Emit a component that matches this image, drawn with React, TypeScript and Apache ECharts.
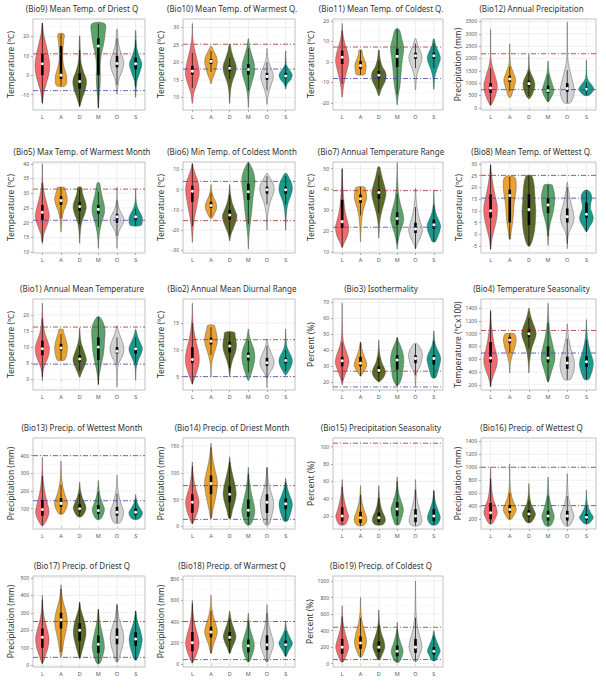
import React, { useEffect, useRef } from "react";
import * as echarts from "echarts";

const categories = ["L", "A", "D", "M", "O", "S"];
const violinColors = ["#EF6B6E", "#E9A232", "#5A6A2B", "#5AA46A", "#D2D2D2", "#199A8B"];

const panelTitles = [
  "(Bio9) Mean Temp. of Driest Q", "(Bio10) Mean Temp. of Warmest Q.", "(Bio11) Mean Temp. of Coldest Q.", "(Bio12) Annual Precipitation",
  "(Bio5) Max Temp. of Warmest Month", "(Bio6) Min Temp. of Coldest Month", "(Bio7) Annual Temperature Range", "(Bio8) Mean Temp. of Wettest Q.",
  "(Bio1) Annual Mean Temperature", "(Bio2) Annual Mean Diurnal Range", "(Bio3) Isothermality", "(Bio4) Temperature Seasonality",
  "(Bio13) Precip. of Wettest Month", "(Bio14) Precip. of Driest Month", "(Bio15) Precipitation Seasonality", "(Bio16) Precip. of Wettest Q",
  "(Bio17) Precip. of Driest Q", "(Bio18) Precip. of Warmest Q", "(Bio19) Precip. of Coldest Q",
];

const T = "Temperature (℃)";
const P = "Precipitation (mm)";
const PC = "Percent (%)";
const yNames = [T, T, T, P, T, T, T, T, T, T, PC, "Temperature (℃x100)", P, P, PC, P, P, P, PC];

const yMin = [-18, 6.4, -23.5, -90, 9.7, -31.3, 9.4, -8, -3.3, 2.5, 15.3, 118, -15, -5, 5, 50, -10, -30, -40];
const yMax = [29, 32.4, 21, 3600, 40.6, 13.7, 53.2, 30.8, 24.9, 19.5, 72, 1544, 500, 165, 110, 1450, 510, 830, 1060];

const yTicks = [
  [-10, 0, 10, 20], [10, 15, 20, 25, 30], [-20, -10, 0, 10, 20], [0, 500, 1000, 1500, 2000, 2500, 3000, 3500],
  [10, 15, 20, 25, 30, 35, 40], [-30, -20, -10, 0, 10], [10, 20, 30, 40, 50], [-5, 0, 5, 10, 15, 20, 25, 30],
  [0, 5, 10, 15, 20], [5, 10, 15], [20, 30, 40, 50, 60, 70], [200, 400, 600, 800, 1000, 1200, 1400],
  [100, 200, 300, 400], [0, 50, 100, 150], [20, 40, 60, 80, 100], [200, 400, 600, 800, 1000, 1200, 1400],
  [0, 100, 200, 300, 400, 500], [0, 200, 400, 600, 800], [0, 200, 400, 600, 800, 1000],
];

const redLine = [11, 25.2, 7.3, 2190, 31.4, -15.3, 39.4, 25.1, 16.2, 11.9, 27, 1051, 400, 76, 104, 1000, 250, 400, 440];
const blueLine = [-8, 18.1, -8.1, 735, 20.8, 4.1, 21.8, 15.4, 4.7, 5.0, 17.2, 697, 145, 13, null, 410, 45, 40, 50];

// each violin: [q1, median, q3, density profile [value, relative width]]
const bio9 = [
  [0, 5.9, 11, [[-14.5, 0.02], [-9.3, 0.15], [-4.1, 0.45], [1.1, 0.72], [6.3, 0.78], [11.5, 0.6], [16.7, 0.35], [21.9, 0.12], [26.9, 0.02]]],
  [-2, 0, 15, [[-5.5, 0.45], [-2.2, 0.62], [1.2, 0.52], [4.5, 0.3], [7.9, 0.2], [11.2, 0.18], [14.5, 0.22], [17.9, 0.3], [21.2, 0.32]]],
  [-7, -3.3, 1, [[-16.2, 0.02], [-11.6, 0.3], [-7.1, 0.62], [-2.6, 0.72], [1.9, 0.4], [6.4, 0.15], [10.9, 0.08], [15.4, 0.05], [20.3, 0.02]]],
  [0, 15, 19, [[-17, 0.02], [-11.6, 0.08], [-6.1, 0.18], [-0.7, 0.22], [4.8, 0.2], [10.2, 0.3], [15.6, 0.55], [21.1, 0.72], [26.5, 0.7]]],
  [4, 6, 10, [[-9.8, 0.02], [-5.6, 0.1], [-1.4, 0.25], [2.8, 0.6], [7, 0.72], [11.2, 0.45], [15.4, 0.2], [19.6, 0.1], [23.8, 0.02]]],
  [3, 5.9, 9, [[-11.4, 0.02], [-7.1, 0.05], [-2.8, 0.15], [1.5, 0.45], [5.9, 0.66], [10.2, 0.35], [14.5, 0.1], [18.8, 0.05], [23.1, 0.02]]],
];
const bio10 = [
  [16.5, 17.5, 19, [[8.3, 0.02], [11.15, 0.15], [14, 0.5], [16.85, 0.75], [19.7, 0.6], [22.55, 0.35], [25.4, 0.12], [28.25, 0.03], [31.1, 0.01]]],
  [19.5, 20.3, 21, [[13.9, 0.02], [15.2, 0.15], [16.5, 0.35], [17.9, 0.5], [19.2, 0.62], [20.5, 0.68], [21.9, 0.55], [23.2, 0.3], [24.5, 0.08]]],
  [17.5, 18.3, 19, [[8.3, 0.02], [10.4, 0.05], [12.5, 0.12], [14.6, 0.3], [16.8, 0.6], [18.9, 0.7], [21, 0.45], [23.1, 0.2], [25.2, 0.05]]],
  [16.5, 18, 19.5, [[7.1, 0.01], [9.6, 0.05], [12, 0.15], [14.5, 0.4], [16.9, 0.65], [19.4, 0.65], [21.9, 0.4], [24.3, 0.15], [26.8, 0.02]]],
  [15, 16, 17, [[8, 0.02], [10, 0.08], [12, 0.25], [14, 0.5], [16, 0.68], [18, 0.5], [20, 0.2], [22, 0.06], [24, 0.01]]],
  [15.5, 16.1, 17, [[12.4, 0.02], [13.8, 0.15], [15.1, 0.55], [16.5, 0.7], [17.9, 0.4], [19.2, 0.1], [20.6, 0.05], [21.9, 0.03], [23.3, 0.01]]],
];
const bio11 = [
  [-1, 2.3, 5.5, [[-17.2, 0.02], [-12.7, 0.12], [-8.2, 0.3], [-3.7, 0.55], [0.8, 0.72], [5.3, 0.55], [9.8, 0.25], [14.3, 0.06], [18.8, 0.01]]],
  [-3.5, -1.8, 0.5, [[-6.2, 0.45], [-4.7, 0.55], [-3.2, 0.6], [-1.7, 0.62], [-0.2, 0.55], [1.3, 0.4], [2.8, 0.28], [4.3, 0.2], [5.8, 0.15]]],
  [-8, -6.5, -4.5, [[-16.4, 0.05], [-13.6, 0.25], [-10.8, 0.55], [-8.1, 0.78], [-5.3, 0.75], [-2.5, 0.4], [0.3, 0.2], [3, 0.1], [5.8, 0.05]]],
  [-2.5, 2.7, 6.5, [[-21, 0.01], [-16.4, 0.12], [-11.8, 0.3], [-7.1, 0.4], [-2.5, 0.48], [2.1, 0.6], [6.8, 0.72], [11.4, 0.5], [16, 0.2]]],
  [1.5, 3, 4.5, [[-13.6, 0.02], [-10.5, 0.06], [-7.4, 0.12], [-4.2, 0.3], [-1.1, 0.55], [2, 0.72], [5.1, 0.55], [8.3, 0.25], [11.4, 0.05]]],
  [1.5, 3, 4.5, [[-13.3, 0.02], [-10.2, 0.06], [-7.2, 0.12], [-4.1, 0.3], [-1.1, 0.55], [2, 0.72], [5.1, 0.5], [8.1, 0.2], [11.2, 0.05]]],
];
const bio12 = [
  [600, 800, 1000, [[105, 0.05], [490, 0.5], [875, 0.7], [1260, 0.5], [1645, 0.2], [2030, 0.03], [2415, 0.02], [2800, 0.01], [3185, 0.01]]],
  [1050, 1170, 1300, [[430, 0.1], [700, 0.35], [900, 0.5], [1150, 0.62], [1400, 0.4], [1700, 0.12], [2000, 0.04], [2300, 0.02], [2595, 0.01]]],
  [850, 980, 1100, [[370, 0.05], [500, 0.3], [750, 0.55], [950, 0.62], [1150, 0.5], [1400, 0.2], [1600, 0.06], [1900, 0.02], [2160, 0.01]]],
  [600, 700, 900, [[240, 0.05], [400, 0.3], [600, 0.55], [750, 0.6], [950, 0.45], [1150, 0.3], [1400, 0.12], [1650, 0.05], [1900, 0.01]]],
  [650, 780, 1000, [[200, 0.3], [400, 0.6], [700, 0.75], [1000, 0.6], [1400, 0.35], [1800, 0.12], [2200, 0.03], [2800, 0.01], [3475, 0.005]]],
  [680, 750, 820, [[500, 0.2], [600, 0.55], [750, 0.78], [900, 0.6], [1050, 0.3], [1200, 0.1], [1400, 0.04], [1700, 0.02], [1940, 0.01]]],
];
const bio5 = [
  [21, 23.5, 26, [[13, 0.02], [16, 0.15], [19, 0.5], [22, 0.75], [25, 0.6], [28, 0.35], [31, 0.15], [34, 0.05], [37, 0.02], [40, 0.005]]],
  [26, 27.5, 29, [[16.8, 0.01], [19, 0.05], [22, 0.15], [24, 0.3], [26, 0.55], [28, 0.68], [30, 0.55], [31.5, 0.4], [32, 0.35]]],
  [24, 25.5, 27, [[13, 0.01], [16, 0.05], [19, 0.15], [21, 0.3], [23, 0.55], [25.5, 0.7], [28, 0.5], [30, 0.3], [32, 0.2]]],
  [23, 24.5, 26, [[11.3, 0.01], [14, 0.05], [17, 0.15], [20, 0.35], [22, 0.55], [24, 0.68], [26.5, 0.6], [29, 0.4], [31.5, 0.25], [33.5, 0.12]]],
  [20, 22, 23, [[11.3, 0.01], [14, 0.05], [17, 0.2], [19, 0.55], [21, 0.75], [23, 0.5], [25, 0.2], [28, 0.05], [32, 0.01]]],
  [21, 22, 22.5, [[19, 0.55], [20, 0.7], [21.5, 0.72], [23, 0.55], [24.5, 0.3], [26, 0.12], [28, 0.04], [30, 0.02], [31.4, 0.01]]],
];
const bio6 = [
  [-6, -0.8, 2, [[-26, 0.01], [-20, 0.08], [-15, 0.2], [-10, 0.4], [-5, 0.6], [0, 0.72], [4, 0.6], [8, 0.3], [11, 0.1], [12.9, 0.02]]],
  [-9, -7.8, -6, [[-14.1, 0.1], [-12, 0.35], [-10, 0.55], [-8, 0.62], [-6, 0.5], [-4, 0.3], [-2, 0.15], [0, 0.06], [2.5, 0.02]]],
  [-15, -12.5, -10, [[-25.2, 0.02], [-22, 0.15], [-19, 0.4], [-16, 0.65], [-13, 0.78], [-10, 0.55], [-7, 0.3], [-4, 0.15], [-1, 0.06], [2.5, 0.02]]],
  [-5, -1, 3, [[-29.3, 0.01], [-24, 0.05], [-19, 0.15], [-14, 0.28], [-9, 0.4], [-4, 0.5], [0, 0.62], [4, 0.72], [8, 0.6], [11, 0.35], [13.4, 0.05]]],
  [-2, 0, 1.5, [[-20, 0.01], [-15, 0.05], [-10, 0.15], [-6, 0.35], [-3, 0.6], [0, 0.78], [3, 0.65], [6, 0.3], [8, 0.05]]],
  [-2, 0, 1.5, [[-20, 0.01], [-15, 0.05], [-10, 0.12], [-6, 0.3], [-3, 0.55], [0, 0.72], [3, 0.65], [6, 0.35], [8, 0.1]]],
];
const bio7 = [
  [21.5, 24.5, 35, [[12.1, 0.02], [15, 0.3], [18, 0.6], [22, 0.72], [26, 0.5], [30, 0.3], [34, 0.2], [38, 0.12], [42, 0.06], [46, 0.03], [50, 0.01]]],
  [33.5, 35.5, 37.5, [[14.8, 0.01], [18, 0.03], [22, 0.08], [26, 0.15], [30, 0.3], [33, 0.5], [36, 0.68], [39, 0.6], [41.1, 0.45]]],
  [35.5, 38.5, 40, [[16.5, 0.01], [20, 0.04], [25, 0.12], [30, 0.35], [34, 0.6], [38, 0.78], [42, 0.6], [46, 0.35], [49, 0.2], [50.8, 0.1]]],
  [23, 26, 29, [[11.3, 0.01], [15, 0.1], [19, 0.3], [23, 0.6], [26, 0.72], [30, 0.55], [34, 0.3], [38, 0.15], [42, 0.08], [47, 0.03], [52.9, 0.005]]],
  [19, 21, 24, [[11.3, 0.01], [14, 0.2], [17, 0.55], [21, 0.75], [24, 0.55], [28, 0.3], [32, 0.15], [36, 0.06], [40.6, 0.01]]],
  [21, 23, 25.5, [[14.8, 0.15], [17, 0.4], [20, 0.65], [23, 0.72], [26, 0.45], [29, 0.2], [32, 0.08], [36, 0.03], [39.5, 0.01]]],
];
const bio8 = [
  [7, 10, 17, [[-6.4, 0.01], [-3, 0.1], [0, 0.25], [4, 0.5], [8, 0.68], [12, 0.7], [16, 0.5], [20, 0.3], [24, 0.15], [27, 0.06], [29.6, 0.01]]],
  [5, 16.5, 19, [[-2.1, 0.05], [1, 0.15], [5, 0.3], [9, 0.38], [13, 0.45], [17, 0.6], [21, 0.68], [24.4, 0.5]]],
  [4, 10.5, 17, [[-5, 0.1], [-2, 0.4], [2, 0.6], [6, 0.68], [10, 0.72], [14, 0.65], [18, 0.6], [22, 0.5], [25, 0.25]]],
  [9, 12.5, 15.5, [[-4.7, 0.01], [-1, 0.05], [2, 0.12], [5, 0.25], [8, 0.45], [11, 0.6], [14, 0.68], [17, 0.68], [20, 0.5], [21.1, 0.4]]],
  [5, 7.5, 11, [[-6.1, 0.01], [-2, 0.05], [1, 0.2], [4, 0.55], [7, 0.72], [10, 0.6], [13, 0.4], [16, 0.25], [19, 0.12], [22.1, 0.02]]],
  [7, 8.5, 13.5, [[1.1, 0.05], [3, 0.3], [5, 0.6], [7, 0.72], [9, 0.6], [11, 0.42], [13, 0.45], [15, 0.55], [17, 0.5], [18.7, 0.2]]],
];
const bio1 = [
  [7.5, 9.5, 12, [[-0.4, 0.01], [2, 0.05], [4, 0.2], [6, 0.5], [8, 0.72], [10, 0.75], [12, 0.55], [14, 0.3], [16, 0.15], [18, 0.08], [21, 0.03], [23.6, 0.01]]],
  [9, 9.7, 11, [[5.9, 0.35], [7, 0.55], [8.5, 0.65], [10, 0.68], [11.5, 0.6], [13, 0.45], [14.5, 0.3], [15.5, 0.2]]],
  [5.5, 6.3, 7.5, [[0.6, 0.02], [2, 0.2], [4, 0.5], [6, 0.72], [8, 0.55], [10, 0.3], [12, 0.12], [14, 0.05], [16, 0.01]]],
  [6, 10, 13, [[-1.6, 0.01], [1, 0.08], [3, 0.2], [5, 0.35], [7, 0.5], [9, 0.6], [11, 0.65], [13, 0.7], [15, 0.72], [17, 0.6], [19.3, 0.15]]],
  [8, 8.7, 10, [[-2.4, 0.005], [1, 0.02], [3, 0.05], [5, 0.2], [7, 0.55], [9, 0.75], [11, 0.65], [13, 0.4], [15, 0.15], [16.6, 0.02]]],
  [8, 9.5, 10, [[-0.2, 0.01], [2, 0.03], [4, 0.08], [6, 0.3], [8, 0.6], [9.5, 0.72], [11, 0.55], [13, 0.25], [15.5, 0.02]]],
];
const bio2 = [
  [7.5, 8.2, 10.5, [[3.6, 0.02], [4.5, 0.2], [6, 0.5], [7.5, 0.72], [9, 0.72], [10.5, 0.55], [12, 0.35], [13.5, 0.18], [15, 0.08], [16.5, 0.03], [18.7, 0.005]]],
  [11, 11.6, 12.3, [[5, 0.01], [7, 0.05], [8.5, 0.2], [10, 0.45], [11.5, 0.68], [13, 0.6], [14, 0.45], [14.6, 0.35]]],
  [9.5, 10.7, 11.5, [[5, 0.02], [6.5, 0.1], [8, 0.3], [9.5, 0.6], [10.5, 0.72], [11.5, 0.7], [12.5, 0.6], [13.3, 0.5]]],
  [8, 8.8, 9.5, [[4.3, 0.05], [5.5, 0.3], [7, 0.55], [8.5, 0.7], [10, 0.6], [11.5, 0.3], [12.5, 0.12], [13.9, 0.02]]],
  [7, 7.6, 8.5, [[2.9, 0.005], [4, 0.02], [5, 0.1], [6, 0.4], [7, 0.7], [8, 0.75], [9, 0.55], [10, 0.3], [11, 0.12], [12, 0.02]]],
  [7.5, 8, 8.5, [[5.3, 0.05], [6, 0.3], [7, 0.6], [8, 0.72], [9, 0.55], [10, 0.25], [11, 0.1], [12.5, 0.03], [13.9, 0.01]]],
];
const bio3 = [
  [30, 33.5, 36, [[18.6, 0.02], [22, 0.15], [26, 0.4], [30, 0.65], [33, 0.75], [37, 0.6], [41, 0.35], [45, 0.15], [50, 0.06], [56, 0.03], [62, 0.01], [69.4, 0.005]]],
  [30, 32, 36, [[24, 0.05], [26, 0.25], [28, 0.5], [30, 0.65], [32, 0.68], [35, 0.5], [38, 0.3], [41, 0.15], [45, 0.03]]],
  [26, 27.5, 30, [[20.6, 0.1], [23, 0.5], [26, 0.72], [29, 0.6], [32, 0.35], [35, 0.2], [38, 0.1], [42, 0.04], [46.5, 0.01]]],
  [28, 34, 37, [[17.9, 0.05], [20, 0.3], [23, 0.5], [27, 0.6], [31, 0.7], [35, 0.72], [39, 0.6], [43, 0.35], [46, 0.12], [48, 0.02]]],
  [32, 35, 37, [[17.9, 0.005], [21, 0.03], [25, 0.1], [28, 0.3], [31, 0.55], [35, 0.72], [38, 0.75], [41, 0.55], [44, 0.2]]],
  [31, 35, 37, [[23, 0.2], [26, 0.4], [29, 0.55], [32, 0.68], [35, 0.75], [38, 0.6], [41, 0.35], [44, 0.15], [48, 0.06], [52, 0.02]]],
];
const bio4 = [
  [550, 620, 870, [[169, 0.01], [250, 0.1], [350, 0.3], [450, 0.55], [550, 0.7], [650, 0.68], [750, 0.5], [850, 0.35], [950, 0.25], [1050, 0.15], [1150, 0.08], [1250, 0.03], [1374, 0.01]]],
  [850, 900, 950, [[385, 0.01], [500, 0.05], [600, 0.15], [700, 0.35], [800, 0.55], [900, 0.68], [960, 0.6], [1000, 0.45]]],
  [950, 1000, 1070, [[385, 0.01], [500, 0.04], [600, 0.1], [700, 0.2], [800, 0.35], [900, 0.6], [1000, 0.75], [1100, 0.6], [1200, 0.35], [1300, 0.15], [1400, 0.02]]],
  [550, 620, 800, [[246, 0.05], [350, 0.25], [450, 0.45], [550, 0.65], [650, 0.72], [750, 0.6], [850, 0.45], [950, 0.3], [1050, 0.18], [1150, 0.1], [1300, 0.04], [1477, 0.005]]],
  [450, 540, 640, [[282, 0.3], [350, 0.55], [450, 0.72], [550, 0.75], [650, 0.6], [750, 0.4], [850, 0.25], [950, 0.12], [1050, 0.05], [1154, 0.01]]],
  [480, 560, 650, [[282, 0.2], [350, 0.45], [450, 0.65], [550, 0.72], [650, 0.55], [750, 0.35], [850, 0.2], [950, 0.1], [1100, 0.03], [1220, 0.01]]],
];
const bio13 = [
  [60, 95, 150, [[5, 0.1], [40, 0.5], [80, 0.72], [120, 0.6], [160, 0.4], [200, 0.25], [250, 0.12], [300, 0.05], [350, 0.02], [390, 0.005]]],
  [110, 130, 160, [[70, 0.2], [100, 0.55], [130, 0.7], [160, 0.55], [200, 0.3], [250, 0.12], [300, 0.05], [370, 0.01]]],
  [85, 100, 125, [[55, 0.2], [80, 0.55], [105, 0.68], [130, 0.55], [160, 0.3], [200, 0.1], [250, 0.01]]],
  [70, 90, 120, [[40, 0.2], [70, 0.55], [100, 0.65], [130, 0.45], [160, 0.25], [200, 0.1], [260, 0.01]]],
  [60, 80, 110, [[20, 0.3], [50, 0.6], [80, 0.72], [110, 0.55], [150, 0.3], [200, 0.12], [250, 0.04], [290, 0.01]]],
  [65, 80, 100, [[40, 0.3], [60, 0.65], [80, 0.72], [100, 0.5], [130, 0.2], [160, 0.05], [180, 0.01]]],
];
const bio14 = [
  [25, 45, 60, [[5, 0.05], [15, 0.3], [30, 0.6], [45, 0.72], [60, 0.55], [75, 0.3], [90, 0.15], [105, 0.05], [120, 0.01]]],
  [60, 80, 95, [[15, 0.05], [30, 0.2], [50, 0.45], [70, 0.65], [85, 0.68], [100, 0.5], [120, 0.25], [140, 0.08], [155, 0.01]]],
  [45, 60, 75, [[15, 0.1], [30, 0.3], [45, 0.55], [60, 0.7], [75, 0.6], [90, 0.4], [105, 0.2], [120, 0.06], [130, 0.01]]],
  [18, 30, 50, [[3, 0.2], [15, 0.55], [30, 0.7], [45, 0.55], [60, 0.35], [75, 0.2], [90, 0.08], [110, 0.01]]],
  [25, 45, 60, [[3, 0.2], [15, 0.45], [30, 0.65], [45, 0.72], [60, 0.5], [75, 0.25], [90, 0.1], [110, 0.01]]],
  [32, 42, 52, [[10, 0.2], [20, 0.45], [35, 0.68], [45, 0.7], [55, 0.5], [70, 0.2], [80, 0.08], [90, 0.01]]],
];
const bio15 = [
  [14, 20, 30, [[10, 0.3], [15, 0.6], [20, 0.7], [27, 0.5], [35, 0.3], [45, 0.12], [55, 0.04], [62, 0.01]]],
  [12, 18, 25, [[9, 0.3], [13, 0.65], [18, 0.68], [25, 0.45], [32, 0.25], [40, 0.1], [50, 0.03], [55, 0.01]]],
  [13, 18, 24, [[10, 0.4], [14, 0.7], [19, 0.65], [25, 0.4], [32, 0.2], [42, 0.07], [55, 0.01]]],
  [20, 28, 36, [[10, 0.2], [15, 0.4], [22, 0.6], [28, 0.68], [35, 0.5], [45, 0.2], [55, 0.06], [65, 0.01]]],
  [13, 20, 28, [[9, 0.4], [14, 0.7], [20, 0.6], [27, 0.45], [35, 0.25], [45, 0.1], [55, 0.03], [62, 0.01]]],
  [14, 20, 28, [[10, 0.3], [15, 0.65], [20, 0.68], [27, 0.45], [33, 0.25], [40, 0.1], [50, 0.01]]],
];
const bio16 = [
  [200, 300, 450, [[130, 0.15], [200, 0.45], [300, 0.7], [400, 0.55], [500, 0.3], [650, 0.12], [800, 0.05], [1000, 0.01]]],
  [300, 350, 420, [[200, 0.15], [280, 0.5], [350, 0.68], [430, 0.5], [550, 0.2], [700, 0.06], [850, 0.02], [1050, 0.005]]],
  [240, 280, 340, [[150, 0.2], [220, 0.55], [280, 0.68], [350, 0.5], [450, 0.2], [600, 0.05], [750, 0.01]]],
  [180, 250, 330, [[100, 0.25], [180, 0.55], [250, 0.65], [350, 0.45], [450, 0.25], [600, 0.08], [850, 0.01]]],
  [180, 250, 330, [[100, 0.2], [180, 0.55], [250, 0.7], [350, 0.5], [450, 0.25], [600, 0.08], [900, 0.01]]],
  [190, 230, 280, [[130, 0.2], [180, 0.55], [230, 0.72], [300, 0.45], [400, 0.15], [500, 0.05], [650, 0.01]]],
];
const bio17 = [
  [100, 160, 210, [[10, 0.05], [50, 0.3], [100, 0.6], [150, 0.72], [200, 0.55], [250, 0.3], [300, 0.12], [350, 0.04], [400, 0.01]]],
  [210, 260, 300, [[50, 0.05], [100, 0.2], [150, 0.35], [200, 0.55], [250, 0.68], [300, 0.55], [350, 0.3], [400, 0.1], [460, 0.01]]],
  [140, 200, 240, [[40, 0.05], [80, 0.25], [130, 0.5], [180, 0.68], [230, 0.6], [280, 0.35], [320, 0.12], [360, 0.01]]],
  [70, 120, 170, [[10, 0.15], [50, 0.45], [100, 0.65], [150, 0.55], [200, 0.35], [250, 0.15], [320, 0.01]]],
  [120, 160, 210, [[20, 0.1], [70, 0.4], [120, 0.65], [170, 0.72], [220, 0.5], [270, 0.2], [350, 0.01]]],
  [110, 150, 190, [[30, 0.1], [70, 0.4], [110, 0.6], [150, 0.7], [200, 0.5], [250, 0.2], [310, 0.01]]],
];
const bio18 = [
  [120, 200, 300, [[10, 0.05], [60, 0.3], [130, 0.6], [200, 0.72], [280, 0.55], [360, 0.3], [450, 0.12], [530, 0.04], [600, 0.01]]],
  [250, 300, 350, [[100, 0.05], [180, 0.25], [250, 0.55], [310, 0.68], [380, 0.5], [450, 0.25], [550, 0.06], [650, 0.01]]],
  [220, 250, 300, [[100, 0.05], [150, 0.25], [210, 0.55], [260, 0.68], [320, 0.5], [400, 0.2], [500, 0.01]]],
  [110, 170, 230, [[20, 0.1], [80, 0.4], [140, 0.6], [200, 0.62], [270, 0.4], [350, 0.15], [480, 0.01]]],
  [130, 180, 270, [[20, 0.1], [80, 0.35], [140, 0.6], [200, 0.7], [270, 0.5], [350, 0.25], [450, 0.08], [560, 0.01]]],
  [160, 180, 220, [[70, 0.05], [120, 0.3], [170, 0.65], [200, 0.72], [250, 0.45], [320, 0.12], [400, 0.01]]],
];
const bio19 = [
  [120, 200, 300, [[20, 0.1], [100, 0.45], [200, 0.7], [300, 0.5], [400, 0.25], [500, 0.1], [600, 0.03], [700, 0.01]]],
  [180, 250, 330, [[80, 0.1], [150, 0.4], [250, 0.65], [350, 0.55], [450, 0.3], [550, 0.12], [650, 0.04], [800, 0.01]]],
  [140, 200, 270, [[50, 0.1], [120, 0.4], [200, 0.65], [280, 0.55], [380, 0.25], [500, 0.07], [650, 0.01]]],
  [90, 150, 220, [[20, 0.2], [80, 0.5], [150, 0.65], [230, 0.45], [320, 0.2], [400, 0.06], [500, 0.01]]],
  [130, 200, 300, [[30, 0.15], [100, 0.45], [200, 0.7], [300, 0.55], [400, 0.3], [550, 0.1], [700, 0.04], [850, 0.015], [1000, 0.005]]],
  [110, 150, 200, [[40, 0.2], [100, 0.5], [150, 0.7], [220, 0.5], [300, 0.2], [400, 0.01]]],
];

const panelViolins: any[] = [bio9, bio10, bio11, bio12, bio5, bio6, bio7, bio8, bio1, bio2, bio3, bio4, bio13, bio14, bio15, bio16, bio17, bio18, bio19];

export default function App() {
  const ref = useRef<HTMLDivElement>(null);
  useEffect(() => {
    const chart = echarts.init(ref.current as HTMLDivElement, null, { renderer: "svg" });
    const colLeft = [33, 183, 333, 481];
    const colWidth = [112, 112, 110, 115];
    const rowTop = [19, 162, 299, 438, 576];
    const rowHeight = 91;
    const font = "'Noto Sans', 'Noto Sans CJK KR', sans-serif";

    const grids: any[] = [];
    const xAxes: any[] = [];
    const yAxes: any[] = [];
    const series: any[] = [];
    const graphics: any[] = [];

    panelTitles.forEach((title, k) => {
      const r = Math.floor(k / 4);
      const c = k % 4;
      grids.push({
        left: colLeft[c], top: rowTop[r], width: colWidth[c], height: rowHeight,
        show: true, borderColor: "#b0b0b0", borderWidth: 0.8, backgroundColor: "#ffffff",
      });
      xAxes.push({
        type: "category", gridIndex: k, data: categories,
        axisLine: { show: false },
        axisTick: { show: true, alignWithLabel: true, length: 2, lineStyle: { color: "#777", width: 0.6 } },
        axisLabel: { fontSize: 5.5, color: "#555", margin: 4, fontFamily: font },
        splitLine: { show: false },
      });
      const ticks = yTicks[k];
      yAxes.push({
        type: "value", gridIndex: k, min: yMin[k], max: yMax[k],
        axisLine: { show: false },
        axisTick: { show: true, length: 2, customValues: ticks, lineStyle: { color: "#777", width: 0.6 } },
        axisLabel: { customValues: ticks, fontSize: 5, color: "#555", margin: 4, fontFamily: font, formatter: (v: number) => String(v) },
        splitLine: { show: false },
        name: yNames[k], nameLocation: "middle", nameGap: 18, nameRotate: 90,
        nameTextStyle: { fontSize: 8.5, color: "#333", fontFamily: font },
      });

      // background grid lines
      series.push({
        type: "custom", xAxisIndex: k, yAxisIndex: k, silent: true, z: 1,
        data: [[0, yMin[k]]],
        renderItem: (params: any, api: any) => {
          const cs = params.coordSys;
          const children: any[] = [];
          const step = ticks.length > 1 ? ticks[1] - ticks[0] : 1;
          const minors: number[] = [];
          for (let t = ticks[0] - step / 2; t <= ticks[ticks.length - 1] + step / 2 + 1e-9; t += step) minors.push(t);
          minors.forEach((t) => {
            if (t <= yMin[k] || t >= yMax[k]) return;
            const y = api.coord([0, t])[1];
            children.push({ type: "line", shape: { x1: cs.x, y1: y, x2: cs.x + cs.width, y2: y }, style: { stroke: "#f3f3f3", lineWidth: 0.5 } });
          });
          ticks.forEach((t) => {
            const y = api.coord([0, t])[1];
            children.push({ type: "line", shape: { x1: cs.x, y1: y, x2: cs.x + cs.width, y2: y }, style: { stroke: "#e8e8e8", lineWidth: 0.7 } });
          });
          categories.forEach((_, i) => {
            const x = api.coord([i, yMin[k]])[0];
            children.push({ type: "line", shape: { x1: x, y1: cs.y, x2: x, y2: cs.y + cs.height }, style: { stroke: "#e8e8e8", lineWidth: 0.7 } });
          });
          return { type: "group", children };
        },
      });

      // violins
      const vio = panelViolins[k];
      series.push({
        type: "custom", xAxisIndex: k, yAxisIndex: k, silent: true, z: 2,
        data: vio.map((v: any, i: number) => [i, v[1]]),
        renderItem: (params: any, api: any) => {
          const i = api.value(0);
          const [q1, med, q3, prof] = vio[i];
          const band = api.size([1, 0])[0];
          const right = prof.map(([v, w]: number[]) => {
            const p = api.coord([i, v]);
            return [p[0] + (w * band) / 2, p[1]];
          });
          const left = prof.slice().reverse().map(([v, w]: number[]) => {
            const p = api.coord([i, v]);
            return [p[0] - (w * band) / 2, p[1]];
          });
          const iqr = q3 - q1;
          const lo = Math.max(prof[0][0], q1 - 1.5 * iqr);
          const hi = Math.min(prof[prof.length - 1][0], q3 + 1.5 * iqr);
          const cx = api.coord([i, med])[0];
          const yLo = api.coord([i, lo])[1];
          const yHi = api.coord([i, hi])[1];
          const yQ1 = api.coord([i, q1])[1];
          const yQ3 = api.coord([i, q3])[1];
          const yMed = api.coord([i, med])[1];
          return {
            type: "group",
            children: [
              {
                type: "polygon",
                shape: { points: right.concat(left), smooth: 0.35 },
                style: { fill: violinColors[i], stroke: "#444", lineWidth: 0.4 },
              },
              { type: "line", shape: { x1: cx, y1: yLo, x2: cx, y2: yHi }, style: { stroke: "#000", lineWidth: 0.7 } },
              { type: "line", shape: { x1: cx, y1: yQ1, x2: cx, y2: yQ3 }, style: { stroke: "#000", lineWidth: 2.6 } },
              { type: "circle", shape: { cx, cy: yMed, r: 1.5 }, style: { fill: "#ffffff", stroke: "none" } },
            ],
          };
        },
      });

      // reference lines
      series.push({
        type: "custom", xAxisIndex: k, yAxisIndex: k, silent: true, z: 3,
        data: [[0, yMin[k]]],
        renderItem: (params: any, api: any) => {
          const cs = params.coordSys;
          const children: any[] = [];
          const add = (v: number | null, color: string) => {
            if (v === null || v === undefined) return;
            const y = api.coord([0, v])[1];
            children.push({
              type: "line",
              shape: { x1: cs.x, y1: y, x2: cs.x + cs.width, y2: y },
              style: { stroke: color, lineWidth: 0.9, lineDash: [5, 2, 1, 2], opacity: 0.9 },
            });
          };
          add(redLine[k], "#A8302E");
          add(blueLine[k], "#4646A6");
          return { type: "group", children };
        },
      });

      graphics.push({
        type: "text",
        x: colLeft[c] + colWidth[c] / 2 - 7,
        y: rowTop[r] - 11,
        style: {
          text: title, fontSize: 8, fill: "#333", fontFamily: font,
          textAlign: "center", textVerticalAlign: "middle",
        },
      });
    });

    chart.setOption({
      animation: false,
      backgroundColor: "#ffffff",
      textStyle: { fontFamily: font },
      grid: grids,
      xAxis: xAxes,
      yAxis: yAxes,
      series,
      graphic: graphics,
    });
    return () => chart.dispose();
  }, []);
  return <div ref={ref} style={{ position: "absolute", left: 0, top: 0, width: 606, height: 689 }} />;
}
